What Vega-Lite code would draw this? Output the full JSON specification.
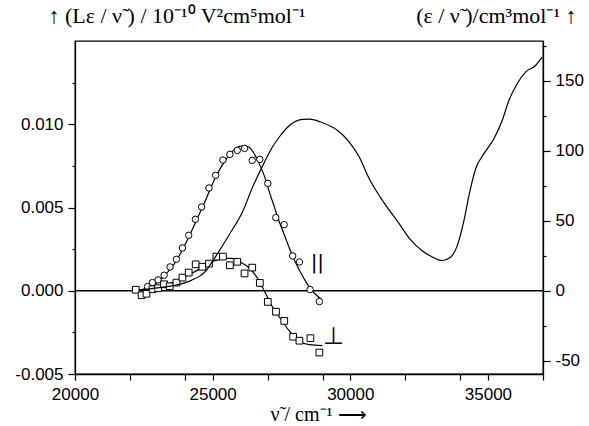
{
  "$schema": "https://vega.github.io/schema/vega-lite/v6.json",
  "width": 468,
  "height": 333,
  "autosize": "none",
  "padding": {"left": 75, "top": 41, "right": 46, "bottom": 52},
  "background": "white",
  "config": {
    "view": {"stroke": "black", "strokeWidth": 1.3},
    "axis": {
      "domainColor": "black", "domainWidth": 1.3, "tickColor": "black", "tickWidth": 1.2,
      "labelFont": "Liberation Sans", "labelFontSize": 17, "labelColor": "black", "labelOverlap": false,
      "titleFont": "Liberation Serif", "titleFontSize": 22, "titleFontWeight": "normal", "titleColor": "black",
      "grid": false
    }
  },
  "datasets": {
    "abs": [
      {"nu": 22300, "eps": 0.5}, {"nu": 22717, "eps": 1.4}, {"nu": 23200, "eps": 2.5}, {"nu": 23623, "eps": 3.8},
      {"nu": 24228, "eps": 7.4}, {"nu": 24710, "eps": 13.3}, {"nu": 25134, "eps": 25.2}, {"nu": 25600, "eps": 40},
      {"nu": 26087, "eps": 56.4}, {"nu": 26450, "eps": 74}, {"nu": 26823, "eps": 89.5}, {"nu": 27150, "eps": 102},
      {"nu": 27428, "eps": 110}, {"nu": 27790, "eps": 118}, {"nu": 28272, "eps": 122.4}, {"nu": 28514, "eps": 122.6},
      {"nu": 28996, "eps": 120}, {"nu": 29540, "eps": 114.5}, {"nu": 29964, "eps": 106.2}, {"nu": 30326, "eps": 95.5},
      {"nu": 30688, "eps": 80}, {"nu": 31112, "eps": 66.2}, {"nu": 31775, "eps": 47.9}, {"nu": 32138, "eps": 37.6},
      {"nu": 32620, "eps": 28.4}, {"nu": 32982, "eps": 24.1}, {"nu": 33344, "eps": 21.6}, {"nu": 33649, "eps": 24.1},
      {"nu": 33888, "eps": 32.4}, {"nu": 34130, "eps": 50.2}, {"nu": 34312, "eps": 68.1}, {"nu": 34554, "eps": 87.1},
      {"nu": 34855, "eps": 97.9}, {"nu": 35217, "eps": 108.6}, {"nu": 35518, "eps": 121.6}, {"nu": 35761, "eps": 135.9},
      {"nu": 36062, "eps": 147.9}, {"nu": 36366, "eps": 156.2}, {"nu": 36728, "eps": 160.9}, {"nu": 36967, "eps": 166.9}
    ],
    "par": [
      {"nu": 22634, "v": 0.00025}, {"nu": 22815, "v": 0.00049}, {"nu": 23018, "v": 0.00065}, {"nu": 23236, "v": 0.00093},
      {"nu": 23453, "v": 0.00143}, {"nu": 23685, "v": 0.00189}, {"nu": 23902, "v": 0.00257}, {"nu": 24130, "v": 0.00333},
      {"nu": 24373, "v": 0.00429}, {"nu": 24601, "v": 0.00503}, {"nu": 24866, "v": 0.00617}, {"nu": 25109, "v": 0.00693},
      {"nu": 25373, "v": 0.00785}, {"nu": 25627, "v": 0.00819}, {"nu": 25895, "v": 0.00843}, {"nu": 26159, "v": 0.00855},
      {"nu": 26438, "v": 0.00783}, {"nu": 26714, "v": 0.00789}, {"nu": 27004, "v": 0.00645}, {"nu": 27293, "v": 0.00439},
      {"nu": 27598, "v": 0.00397}, {"nu": 27909, "v": 0.00209}, {"nu": 28152, "v": 0.00173}, {"nu": 28540, "v": 0.00007},
      {"nu": 28877, "v": -0.00065}
    ],
    "parfit": [
      {"nu": 22210, "v": 0}, {"nu": 22536, "v": 0.00012}, {"nu": 22899, "v": 0.00039}, {"nu": 23261, "v": 0.00093},
      {"nu": 23623, "v": 0.00165}, {"nu": 23986, "v": 0.00273}, {"nu": 24348, "v": 0.00399}, {"nu": 24710, "v": 0.00531},
      {"nu": 25072, "v": 0.00669}, {"nu": 25435, "v": 0.00777}, {"nu": 25797, "v": 0.00849}, {"nu": 25978, "v": 0.00867},
      {"nu": 26159, "v": 0.0087}, {"nu": 26341, "v": 0.00861}, {"nu": 26522, "v": 0.00819}, {"nu": 26703, "v": 0.00759},
      {"nu": 26884, "v": 0.00687}, {"nu": 27065, "v": 0.00591}, {"nu": 27246, "v": 0.00501}, {"nu": 27428, "v": 0.00411},
      {"nu": 27609, "v": 0.00333}, {"nu": 27790, "v": 0.00255}, {"nu": 27971, "v": 0.00183}, {"nu": 28152, "v": 0.00123},
      {"nu": 28333, "v": 0.00069}, {"nu": 28514, "v": 0.00021}, {"nu": 28696, "v": -0.00015}, {"nu": 28949, "v": -0.00051}
    ],
    "perp": [
      {"nu": 22210, "v": 0.00006}, {"nu": 22417, "v": -0.00027}, {"nu": 22598, "v": -0.00018}, {"nu": 22815, "v": 0.00009},
      {"nu": 23018, "v": 0.00015}, {"nu": 23236, "v": 0.00039}, {"nu": 23442, "v": 0.00027}, {"nu": 23685, "v": 0.00049},
      {"nu": 23902, "v": 0.00079}, {"nu": 24130, "v": 0.00109}, {"nu": 24384, "v": 0.00159}, {"nu": 24627, "v": 0.00144},
      {"nu": 24866, "v": 0.00163}, {"nu": 25134, "v": 0.00205}, {"nu": 25373, "v": 0.00205}, {"nu": 25627, "v": 0.00153},
      {"nu": 25895, "v": 0.00174}, {"nu": 26159, "v": 0.00104}, {"nu": 26438, "v": 0.00139}, {"nu": 26714, "v": 0.00047},
      {"nu": 27004, "v": -0.00067}, {"nu": 27301, "v": -0.00126}, {"nu": 27601, "v": -0.00181}, {"nu": 27924, "v": -0.00276},
      {"nu": 28152, "v": -0.003}, {"nu": 28551, "v": -0.00285}, {"nu": 28877, "v": -0.00371}
    ],
    "perpfit": [
      {"nu": 22210, "v": 0}, {"nu": 22717, "v": 0.00009}, {"nu": 23261, "v": 0.00033}, {"nu": 23804, "v": 0.00069},
      {"nu": 24348, "v": 0.00114}, {"nu": 24710, "v": 0.0015}, {"nu": 25072, "v": 0.0018}, {"nu": 25435, "v": 0.00195},
      {"nu": 25688, "v": 0.00195}, {"nu": 25978, "v": 0.00174}, {"nu": 26341, "v": 0.00135}, {"nu": 26630, "v": 0.00075},
      {"nu": 26884, "v": -0.00003}, {"nu": 27138, "v": -0.00087}, {"nu": 27428, "v": -0.00159}, {"nu": 27790, "v": -0.00243},
      {"nu": 28152, "v": -0.00303}, {"nu": 28514, "v": -0.00324}, {"nu": 28986, "v": -0.0033}
    ],
    "labels": [
      {"nu": 28804, "v": 0.00165, "t": "||", "s": 20},
      {"nu": 29384, "v": -0.00279, "t": "⊥", "s": 24}
    ]
  },
  "layer": [
    {
      "layer": [
        {
          "data": {"values": [{"v": 0}]},
          "mark": {"type": "rule", "color": "black", "strokeWidth": 1.5},
          "encoding": {
            "y": {
              "field": "v", "type": "quantitative",
              "scale": {"domain": [-0.005, 0.015], "nice": false, "zero": false},
              "axis": {
                "orient": "left",
                "labelOverlap": false,
                "values": [-0.005, -0.0025, 0, 0.0025, 0.005, 0.0075, 0.01, 0.0125],
                "labelExpr": "abs(datum.value*200 - round(datum.value*200)) < 0.01 ? replace(format(datum.value, '.3f'), '\u2212', '-') : ''",
                "tickSize": {"condition": {"test": "abs(datum.value*200 - round(datum.value*200)) < 0.01", "value": 7}, "value": 3},
                "labelPadding": 5,
                "title": "\u2191  (L\u03b5 / \u03bd\u0303 ) / 10\u207b\u00b9\u2070 V\u00b2cm\u2075mol\u207b\u00b9",
                "titleAngle": 0, "titleAlign": "left", "titleBaseline": "alphabetic",
                "titleX": -27, "titleY": -19
              }
            }
          }
        },
        {
          "data": {"name": "parfit"},
          "mark": {"type": "line", "color": "black", "strokeWidth": 1.2, "interpolate": "monotone"},
          "encoding": {
            "x": {
              "field": "nu", "type": "quantitative",
              "axis": {
                "orient": "bottom",
                "values": [20000, 21000, 22000, 23000, 24000, 26000, 27000, 28000, 29000, 31000, 32000, 33000, 34000, 36000, 37000],
                "labels": false, "domain": false, "tickSize": 6, "title": null
              }
            },
            "y": {"field": "v", "type": "quantitative"}
          }
        },
        {
          "data": {"name": "perpfit"},
          "mark": {"type": "line", "color": "black", "strokeWidth": 1.2, "interpolate": "monotone"},
          "encoding": {
            "x": {"field": "nu", "type": "quantitative"},
            "y": {"field": "v", "type": "quantitative"}
          }
        },
        {
          "data": {"name": "par"},
          "mark": {"type": "point", "shape": "circle", "filled": true, "fill": "white", "stroke": "black", "strokeWidth": 1, "size": 42, "opacity": 1},
          "encoding": {
            "x": {"field": "nu", "type": "quantitative"},
            "y": {"field": "v", "type": "quantitative"}
          }
        },
        {
          "data": {"name": "perp"},
          "mark": {"type": "point", "shape": "square", "filled": true, "fill": "white", "stroke": "black", "strokeWidth": 1, "size": 45, "opacity": 1},
          "encoding": {
            "x": {"field": "nu", "type": "quantitative"},
            "y": {"field": "v", "type": "quantitative"}
          }
        },
        {
          "data": {"name": "labels"},
          "mark": {"type": "text", "font": "DejaVu Sans", "fill": "black", "align": "center", "baseline": "middle"},
          "encoding": {
            "x": {"field": "nu", "type": "quantitative"},
            "y": {"field": "v", "type": "quantitative"},
            "text": {"field": "t"},
            "size": {"field": "s", "type": "quantitative", "scale": null, "legend": null},
            "color": {"value": "black"}
          }
        }
      ]
    },
    {
      "data": {"name": "abs"},
      "mark": {"type": "line", "color": "black", "strokeWidth": 1.2, "interpolate": "monotone"},
      "encoding": {
        "x": {
          "field": "nu", "type": "quantitative",
          "scale": {"domain": [20000, 37000], "nice": false, "zero": false},
          "axis": {
            "orient": "bottom",
            "labelOverlap": false,
            "values": [20000, 25000, 30000, 35000],
            "format": "d",
            "tickSize": 6, "labelPadding": 6, "labelFlush": false,
            "title": "\u03bd\u0303 / cm\u207b\u00b9 \u27f6",
            "titleFontSize": 20,
            "titleAlign": "center", "titleBaseline": "alphabetic", "titleX": 243, "titleY": 46
          }
        },
        "y": {
          "field": "eps", "type": "quantitative",
          "scale": {"domain": [-59.5, 178.4], "nice": false, "zero": false},
          "axis": {
            "orient": "right",
            "labelOverlap": false,
            "values": [-50, -25, 0, 25, 50, 75, 100, 125, 150, 175],
            "labelExpr": "datum.value % 50 == 0 ? replace(format(datum.value, 'd'), '\u2212', '-') : ''",
            "tickSize": {"condition": {"test": "datum.value % 50 == 0", "value": 7}, "value": 3},
            "labelPadding": 5,
            "title": "(\u03b5 / \u03bd\u0303 )/cm\u00b3mol\u207b\u00b9     \u2191",
            "titleAngle": 0, "titleAlign": "right", "titleBaseline": "alphabetic",
            "titleX": 33, "titleY": -19
          }
        }
      }
    }
  ],
  "resolve": {"scale": {"y": "independent"}, "axis": {"x": "independent"}}
}
